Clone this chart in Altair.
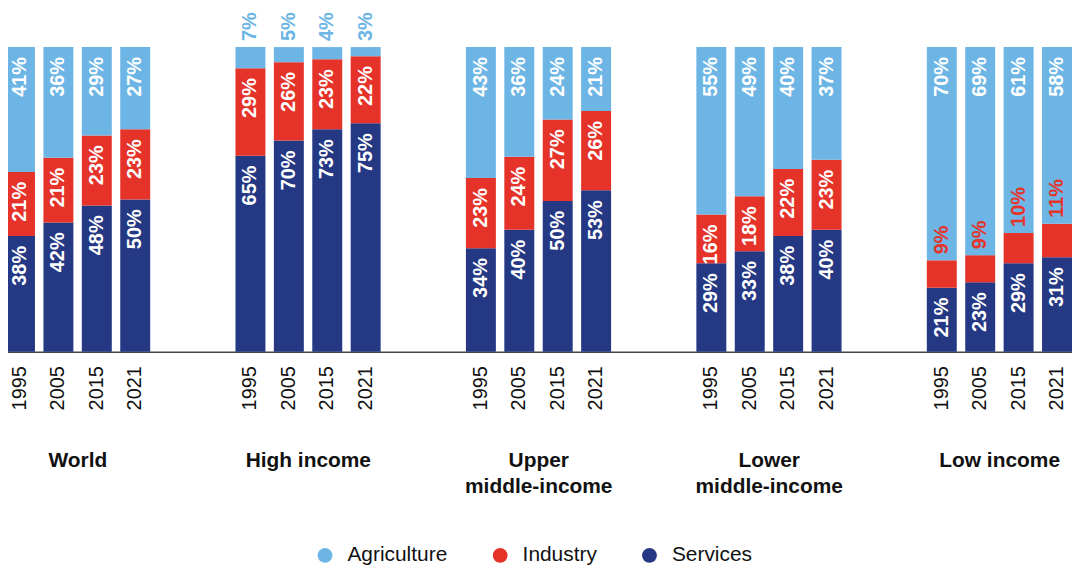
import altair as alt
import pandas as pd

groups = ["World", "High income", "Upper middle-income", "Lower middle-income", "Low income"]
group_titles = ["World", "High income", "Upper\nmiddle-income", "Lower\nmiddle-income", "Low income"]
years = ["1995", "2005", "2015", "2021"]
sectors = ["Agriculture", "Industry", "Services"]
colors = ["#6cb5e5", "#e5332a", "#253883"]

services = {
    "World": [38, 42, 48, 50],
    "High income": [65, 70, 73, 75],
    "Upper middle-income": [34, 40, 50, 53],
    "Lower middle-income": [29, 33, 38, 40],
    "Low income": [21, 23, 29, 31],
}
industry = {
    "World": [21, 21, 23, 23],
    "High income": [29, 26, 23, 22],
    "Upper middle-income": [23, 24, 27, 26],
    "Lower middle-income": [16, 18, 22, 23],
    "Low income": [9, 9, 10, 11],
}
agriculture = {
    "World": [41, 36, 29, 27],
    "High income": [7, 5, 4, 3],
    "Upper middle-income": [43, 36, 24, 21],
    "Lower middle-income": [55, 49, 40, 37],
    "Low income": [70, 69, 61, 58],
}

# slot order on the band scale (two empty slots between groups)
slots = []
for i, g in enumerate(groups):
    slots += [f"{g}|{y}" for y in years]
    if i < len(groups) - 1:
        slots += [f"gap{i}a", f"gap{i}b"]

rows = []
for g in groups:
    for k, y in enumerate(years):
        stack = [("Services", services[g][k]), ("Industry", industry[g][k]), ("Agriculture", agriculture[g][k])]
        total = sum(v for _, v in stack)
        cum = 0
        for s, v in stack:
            y0 = cum / total * 100
            cum += v
            y1 = cum / total * 100
            rows.append({
                "slot": f"{g}|{y}", "group": g, "year": y, "sector": s,
                "value": v, "y0": y0, "y1": y1, "label": f"{v}%",
                "inside": v >= 12,
            })
df = pd.DataFrame(rows)

glabels = pd.DataFrame({
    "slot": [f"{g}|2015" for g in groups],
    "title": group_titles,
})

FONT = "Liberation Sans"

xscale = alt.Scale(domain=slots, paddingInner=0.22, paddingOuter=0)
xaxis = alt.Axis(
    title=None,
    labelExpr="indexof(datum.value, '|') > 0 ? split(datum.value, '|')[1] : ''",
    labelAngle=270, labelAlign="right", labelBaseline="middle",
    labelFontSize=20, labelFont=FONT, labelColor="#111111",
    ticks=False, labelPadding=14, domainColor="#444444", domainWidth=1.5,
    labelOverlap=False, grid=False,
)
yscale = alt.Scale(domain=[0, 112.4], nice=False, zero=True)

base = alt.Chart(df)

bars = base.mark_bar().encode(
    x=alt.X("slot:N", scale=xscale, axis=xaxis),
    y=alt.Y("y1:Q", scale=yscale, axis=None),
    y2="y0:Q",
    color=alt.Color(
        "sector:N",
        scale=alt.Scale(domain=sectors, range=colors),
        legend=alt.Legend(
            title=None, orient="none", legendX=311, legendY=538,
            direction="horizontal", symbolType="circle", symbolSize=220,
            symbolStrokeWidth=0, labelFontSize=21, labelFont=FONT,
            labelColor="#111111", columnPadding=42, labelOffset=12,
        ),
    ),
)

inside = base.transform_filter("datum.inside").mark_text(
    angle=270, align="right", baseline="middle", dx=-10,
    fontSize=20, fontWeight="bold", font=FONT, color="white",
).encode(
    x=alt.X("slot:N"),
    y=alt.Y("y1:Q"),
    text="label:N",
)

outside = base.transform_filter("!datum.inside").mark_text(
    angle=270, align="left", baseline="middle", dx=6,
    fontSize=20, fontWeight="bold", font=FONT,
).encode(
    x=alt.X("slot:N"),
    y=alt.Y("y1:Q"),
    text="label:N",
    color=alt.Color("sector:N", legend=None),
)

titles = alt.Chart(glabels).mark_text(
    align="center", baseline="top", dx=-4, fontSize=21, fontWeight="bold",
    font=FONT, color="#111111", lineBreak="\n", lineHeight=26,
).encode(
    x=alt.X("slot:N", bandPosition=0),
    y=alt.value(443),
    text="title:N",
)

chart = alt.layer(bars, inside, outside, titles).properties(
    width=1072, height=344,
    padding={"left": -3, "top": 0, "right": 0, "bottom": 0},
).configure_view(stroke=None)

chart.save("out.html", embed_options={"renderer": "svg", "actions": False})
